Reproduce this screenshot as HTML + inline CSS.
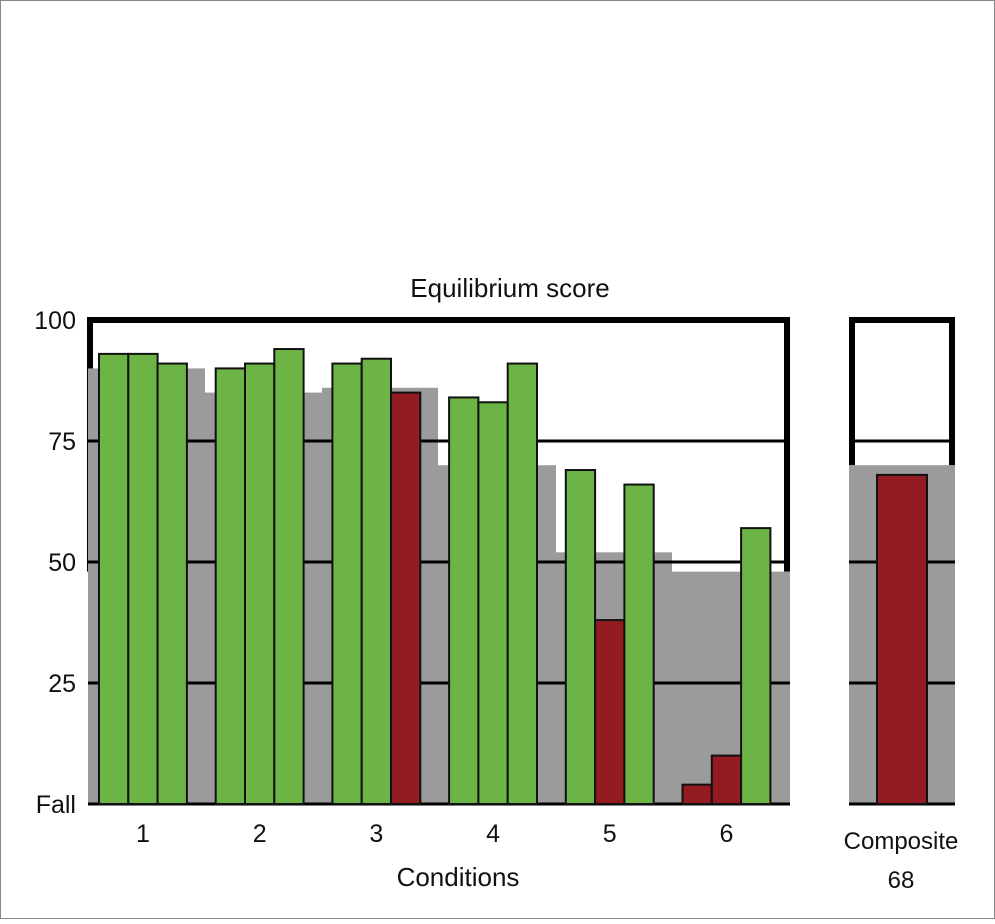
<!DOCTYPE html>
<html><head><meta charset="utf-8"><style>
body{margin:0;background:#fff}
svg text{font-family:"Liberation Sans",sans-serif;fill:#111}
</style></head><body>
<svg id="chart" width="995" height="919" viewBox="0 0 995 919" xmlns="http://www.w3.org/2000/svg">
<rect x="0.5" y="0.5" width="994" height="918" fill="#fff" stroke="#888"/>
<g id="g"></g>
</svg>
<script>
const values=[93,93,91,90,91,94,91,92,85,84,83,91,69,38,66,4,10,57];
const fallFlags=[0,0,0,0,0,0,0,0,1,0,0,0,0,1,0,1,1,0];
const conditions=["1","2","3","4","5","6"];
const normSteps=[[88,205,90],[205,322,85],[322,438,86],[438,556,70],[556,672,52],[672,790,48]];
const compositeValue=68;
const compositeNorm=70;
const yTicks=[100,75,50,25,0];
const yTickLabels=["100","75","50","25","Fall"];

const NS="http://www.w3.org/2000/svg";
const g=document.getElementById('g');
const y=v=>804-v*4.84;
function el(t,a,p){const e=document.createElementNS(NS,t);for(const k in a)e.setAttribute(k,a[k]);(p||g).appendChild(e);return e;}
const groupX=i=>99+i*116.7, bw=29.3;
let f=el('path',{d:`M90 ${y(48)} V320 H787 V${y(48)}`,fill:'none',stroke:'#000','stroke-width':6});


let f2=el('path',{d:`M852 ${y(70)} V320 H952 V${y(70)}`,fill:'none',stroke:'#000','stroke-width':6});


normSteps.forEach(s=>{const r=el('rect',{x:s[0],y:y(s[2]),width:s[1]-s[0],height:804-y(s[2]),fill:'#9b9b9b'});

});
let cg=el('rect',{x:849,y:y(compositeNorm),width:106,height:804-y(compositeNorm),fill:'#9b9b9b'});


yTicks.forEach((t,i)=>{
 const l=el('line',{x1:88,x2:790,y1:y(t),y2:y(t),stroke:'#000','stroke-width':t==100?0:3});
 
 
 if(t<100){const l2=el('line',{x1:849,x2:955,y1:y(t),y2:y(t),stroke:'#000','stroke-width':3});
 
 }
 const tx=el('text',{x:76,y:y(t)+9,'text-anchor':'end','font-size':25});tx.textContent=yTickLabels[i];
 
 
});
values.forEach((v,i)=>{const gi=Math.floor(i/3),k=i%3;
 const r=el('rect',{x:groupX(gi)+k*bw,y:y(v),width:bw,height:804-y(v),fill:fallFlags[i]?'#951b22':'#6db446',stroke:'#111','stroke-width':2});
 
 
});
let cb=el('rect',{x:877,y:y(compositeValue),width:50,height:804-y(compositeValue),fill:'#951b22',stroke:'#111','stroke-width':2});


conditions.forEach((c,i)=>{const t=el('text',{x:groupX(i)+bw*1.5,y:842,'text-anchor':'middle','font-size':25});t.textContent=c;
 
 });
function txt(s,x,yy,fs,name){const t=el('text',{x:x,y:yy,'text-anchor':'middle','font-size':fs});t.textContent=s;
 
 }
txt('Equilibrium score',510,297,26,'chart-title');
txt('Conditions',458,886,26,'x-axis-title');
txt('Composite',901,849,24,'composite-label');
txt('68',901,888,24,'composite-value');
</script>
</body></html>
